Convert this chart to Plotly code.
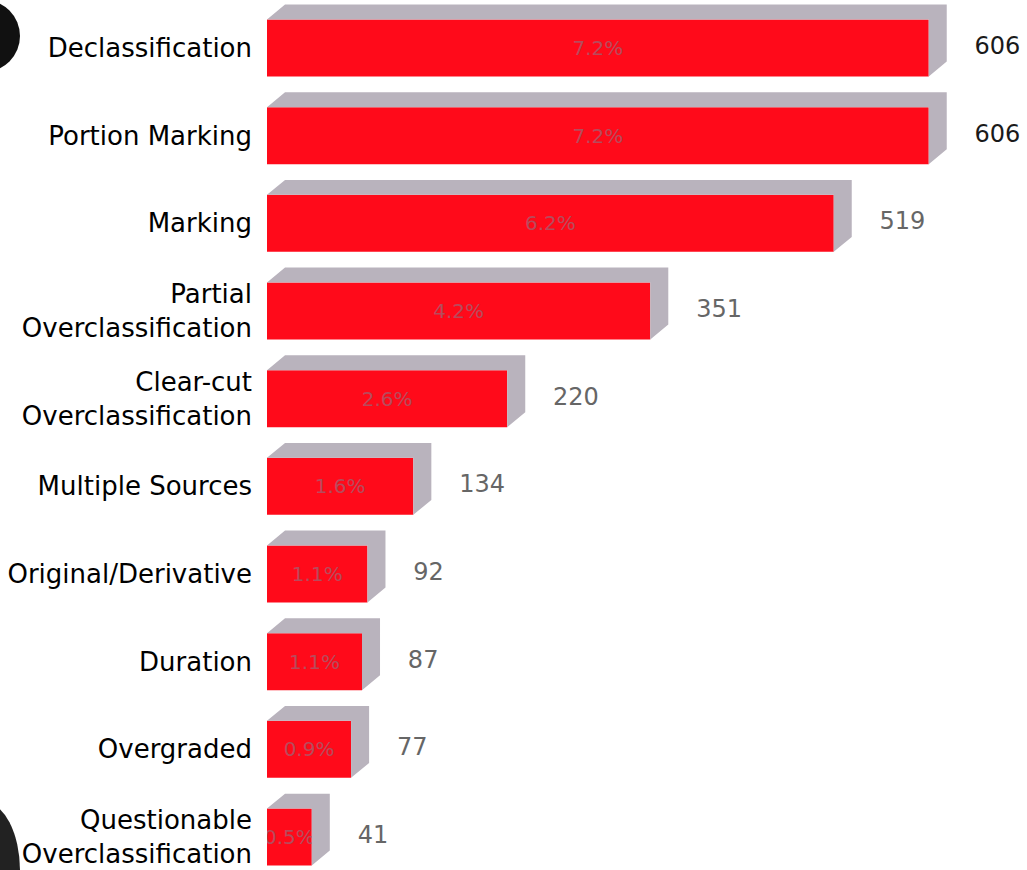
import plotly.graph_objects as go

categories = ["Declassification", "Portion Marking", "Marking", "Partial<br>Overclassification",
              "Clear-cut<br>Overclassification", "Multiple Sources", "Original/Derivative",
              "Duration", "Overgraded", "Questionable<br>Overclassification"]
counts = [606, 606, 519, 351, 220, 134, 92, 87, 77, 41]
percents = ["7.2%", "7.2%", "6.2%", "4.2%", "2.6%", "1.6%", "1.1%", "1.1%", "0.9%", "0.5%"]

RED = "#ff0a1a"
GRAY = "#b9b3bd"
FONT = "DejaVu Sans"

idx = list(range(len(categories)))
bw = 0.65          # bar thickness (category units)
dx = 16.5          # depth offset in x (value units)
dy = 0.17          # depth offset in y (category units)

# 3D side/top faces as L-shaped polygons
px, py = [], []
for i, v in zip(idx, counts):
    top = i - bw / 2
    bot = i + bw / 2
    px += [0, dx, v + dx, v + dx, v, v, 0, None]
    py += [top, top - dy, top - dy, bot - dy, bot, top, top, None]

fig = go.Figure()
fig.add_trace(go.Scatter(x=px, y=py, mode="lines", fill="toself", fillcolor=GRAY,
                         line=dict(width=0, color=GRAY), hoverinfo="skip", showlegend=False))
fig.add_trace(go.Bar(x=counts, y=idx, orientation="h", width=bw, marker=dict(color=RED, line=dict(width=0)),
                     text=percents, textposition="inside", insidetextanchor="middle",
                     constraintext="none", textangle=0,
                     textfont=dict(family=FONT, size=20, color="#b84a5c"), showlegend=False))
fig.add_trace(go.Scatter(x=[v + 42 for v in counts], y=idx, mode="text",
                         text=[str(v) for v in counts], textposition="middle right",
                         textfont=dict(family=FONT, size=24,
                                       color=["#1a1a1a" if v >= 600 else "#666666" for v in counts]),
                         hoverinfo="skip", showlegend=False))

W = 1027
L = 267
def px2paper(p):
    return (p - L) / (W - L)

fig.add_shape(type="circle", xref="paper", yref="paper",
              x0=px2paper(-52), x1=px2paper(20), y0=1 - 72 / 870, y1=1 - 0 / 870,
              fillcolor="#111111", line=dict(width=0), layer="above")
fig.add_shape(type="circle", xref="paper", yref="paper",
              x0=px2paper(-52), x1=px2paper(20), y0=-(70 / 870), y1=(68 / 870),
              fillcolor="#222222", line=dict(width=0), layer="above")

fig.update_layout(
    width=1027, height=870,
    margin=dict(l=L, r=0, t=0, b=0),
    paper_bgcolor="white", plot_bgcolor="white",
    font=dict(family=FONT, color="#000000"),
    xaxis=dict(range=[0, 696], visible=False, showgrid=False, zeroline=False),
    yaxis=dict(range=[9.376, -0.547], tickmode="array", tickvals=idx, ticktext=categories,
               showgrid=False, zeroline=False, showline=False, ticks="",
               ticklabelstandoff=14, tickfont=dict(family=FONT, size=26, color="#000000")),
)

fig.write_html("out.html")
